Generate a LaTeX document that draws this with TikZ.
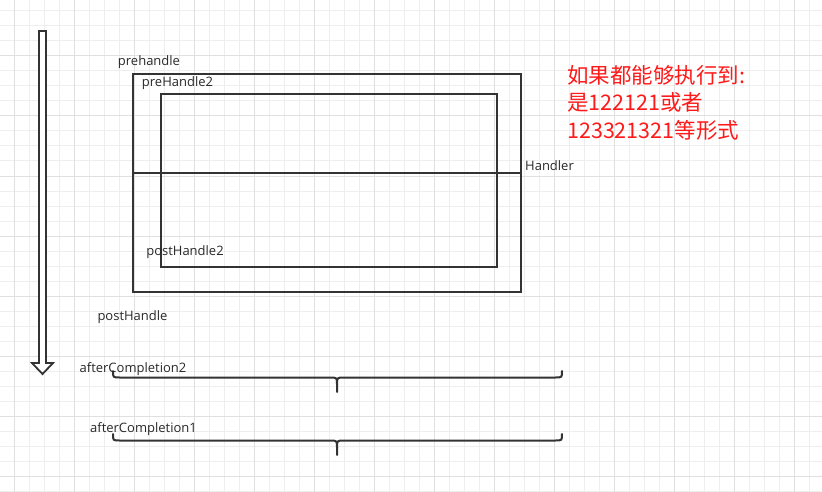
\documentclass[tikz,border=0pt]{standalone}
\usepackage{fontspec}
\setmainfont{Open Sans}
\newfontfamily\cjkfont{Noto Sans CJK SC}
\definecolor{ink}{HTML}{333333}
\definecolor{gridminor}{HTML}{EEEEEE}
\definecolor{gridmajor}{HTML}{E0E0E0}
\definecolor{redtext}{HTML}{FF1A1A}
\tikzset{
  lbl/.style={font=\fontsize{13}{15}\selectfont, text=ink!80!black, inner sep=0pt, anchor=base},
  note/.style={font=\cjkfont\fontsize{21.5}{26}\selectfont, text=redtext, inner sep=0pt, anchor=base west},
  shapeline/.style={draw=ink, line width=2pt},
  bracestyle/.style={draw=ink, line width=2pt, line cap=round},
}
\begin{document}
\begin{tikzpicture}[x=1pt,y=-1pt]
\useasboundingbox (0,0) rectangle (822,492);
\fill[white] (0,0) rectangle (822,492);
% grid
\foreach \k in {0,...,54} {
  \pgfmathsetmacro\gx{14+15*\k}
  \draw[gridminor, line width=1pt] (\gx,0) -- (\gx,492);
}
\foreach \k in {0,...,32} {
  \pgfmathsetmacro\gy{11+15*\k}
  \draw[gridminor, line width=1pt] (0,\gy) -- (822,\gy);
}
\foreach \k in {0,...,13} {
  \pgfmathsetmacro\gx{14+60*\k}
  \draw[gridmajor, line width=1pt] (\gx,0) -- (\gx,492);
}
\foreach \k in {0,...,7} {
  \pgfmathsetmacro\gy{56+60*\k}
  \draw[gridmajor, line width=1pt] (0,\gy) -- (822,\gy);
}
% hollow down arrow
\draw[draw=ink, line width=1.8pt, fill=white, line join=miter]
  (39,31) -- (46,31) -- (46,363) -- (53,363) -- (42.5,374) -- (32,363) -- (39,363) -- cycle;
% rectangles
\draw[shapeline] (133,74) rectangle (521,292);
\draw[shapeline] (161,94) rectangle (497,267);
\draw[shapeline] (133,173) -- (521,173);
% braces
\draw[bracestyle] (113,371) .. controls (113,377.5) .. (119.5,377.5) -- (330,377.5)
  .. controls (337,377.5) .. (337,385) -- (337,392);
\draw[bracestyle] (337,385) .. controls (337,377.5) .. (344,377.5) -- (555.5,377.5)
  .. controls (562,377.5) .. (562,371);
\draw[bracestyle] (113,434) .. controls (113,440.5) .. (119.5,440.5) -- (330,440.5)
  .. controls (337,440.5) .. (337,448) -- (337,455);
\draw[bracestyle] (337,448) .. controls (337,440.5) .. (344,440.5) -- (555.5,440.5)
  .. controls (562,440.5) .. (562,434);
% labels
\node[lbl] (prehandle) at (149,65.5) {prehandle};
\node[lbl] (prehandle2) at (177.5,87) {preHandle2};
\node[lbl] (handler) at (549.5,171) {Handler};
\node[lbl] (posthandle2) at (185,255.5) {postHandle2};
\node[lbl] (posthandle) at (132.5,320) {postHandle};
\node[lbl] (after2) at (133,372.5) {afterCompletion2};
\node[lbl] (after1) at (143.5,432.5) {afterCompletion1};
% red note
\node[note] (note1) at (567,83.5) {如果都能够执行到:};
\node[note] (note2) at (567,111) {是122121或者};
\node[note] (note3) at (567,139) {123321321等形式};
\end{tikzpicture}
\end{document}
